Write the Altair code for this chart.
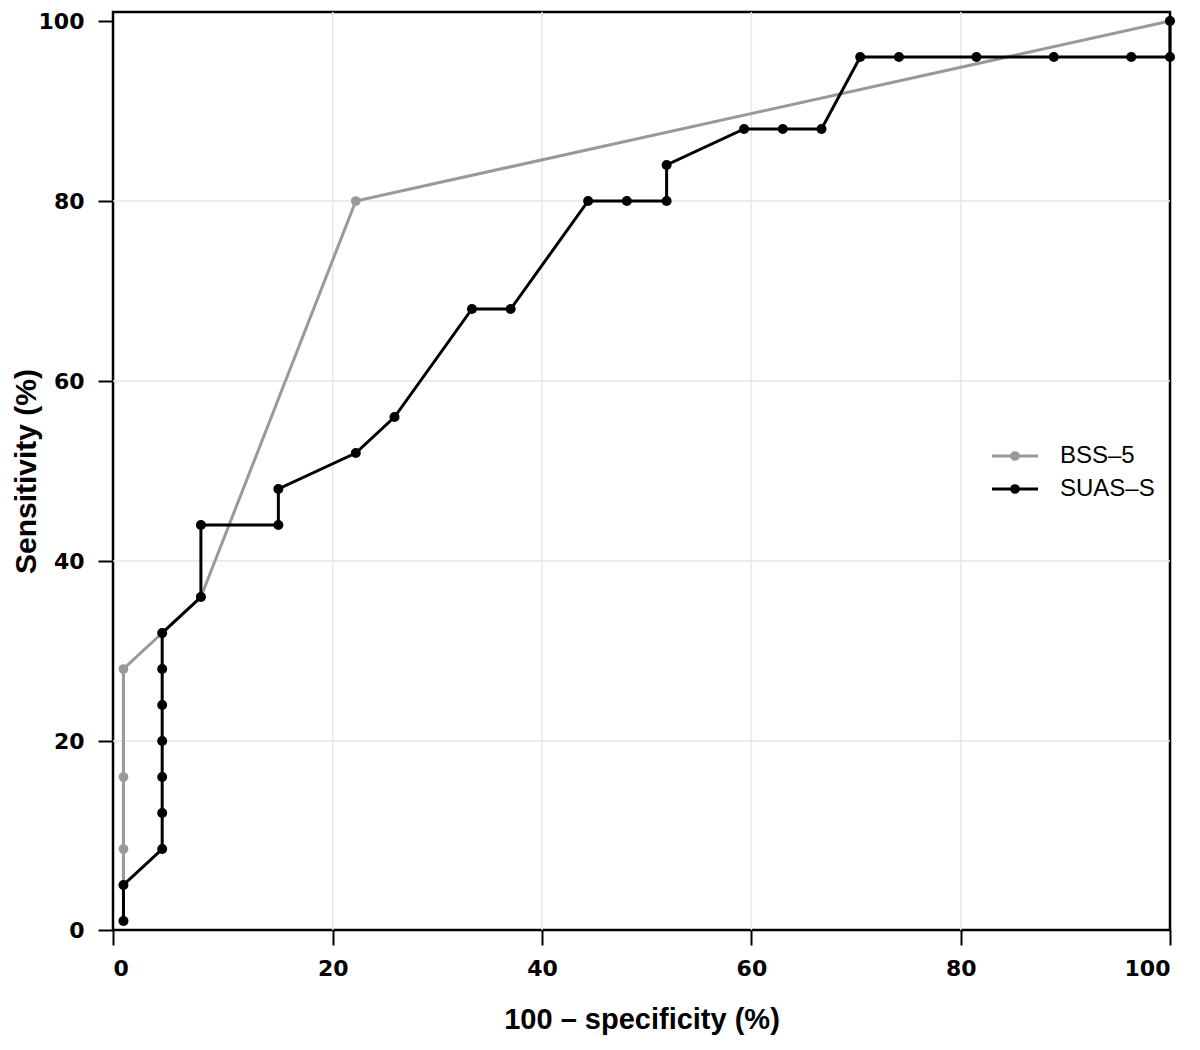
import altair as alt
import pandas as pd

# ---- data ----
series_names = ["BSS–5", "SUAS–S"]
series_colors = ["#999999", "#000000"]

bss_x = [0, 0, 0, 0, 3.7, 7.4, 22.2, 100]
bss_y = [0, 8, 16, 28, 32, 36, 80, 100]

suas_x = [0, 0, 3.7, 3.7, 3.7, 3.7, 3.7, 3.7, 3.7, 7.4, 7.4, 14.8, 14.8, 22.2, 25.9,
          33.3, 37.0, 44.4, 48.1, 51.9, 51.9, 59.3, 63.0, 66.7, 70.4, 74.1, 81.5,
          88.9, 96.3, 100, 100]
suas_y = [0, 4, 8, 12, 16, 20, 24, 28, 32, 36, 44, 44, 48, 52, 56,
          68, 68, 80, 80, 80, 84, 88, 88, 88, 96, 96, 96,
          96, 96, 96, 100]

tick_values = [-1, 20, 40, 60, 80, 100]
grid_values = [20, 40, 60, 80]

bss = pd.DataFrame({"x": bss_x, "y": bss_y, "idx": range(len(bss_x))})
suas = pd.DataFrame({"x": suas_x, "y": suas_y, "idx": range(len(suas_x))})
grid = pd.DataFrame({"v": grid_values})

W, H = 1057, 918

xscale = alt.Scale(domain=[-1, 100], nice=False, zero=False)
yscale = alt.Scale(domain=[-1, 101], nice=False, zero=False)

label_expr = "datum.value < 0 ? '0' : datum.label"

xaxis = alt.Axis(values=tick_values, labelExpr=label_expr, grid=False, domain=False,
                 tickColor="black", tickWidth=2, tickSize=15,
                 labelFont="DejaVu Sans", labelFontWeight="bold", labelFontSize=22,
                 labelColor="black", labelPadding=13,
                 title="100 – specificity (%)", titleFont="Liberation Sans",
                 titleFontWeight="bold", titleFontSize=29, titleColor="black",
                 titlePadding=26)
yaxis = alt.Axis(values=tick_values, labelExpr=label_expr, grid=False, domain=False,
                 tickColor="black", tickWidth=2, tickSize=15,
                 labelFont="DejaVu Sans", labelFontWeight="bold", labelFontSize=22,
                 labelColor="black", labelPadding=14,
                 title="Sensitivity (%)", titleFont="Liberation Sans",
                 titleFontWeight="bold", titleFontSize=30, titleColor="black",
                 titleX=-87, titleY=H / 2, titleBaseline="middle", titleAngle=270)

gridx = alt.Chart(grid).mark_rule(color="#e6e6e6", strokeWidth=1.5).encode(
    x=alt.X("v:Q", scale=xscale, axis=xaxis))
gridy = alt.Chart(grid).mark_rule(color="#e6e6e6", strokeWidth=1.5).encode(
    y=alt.Y("v:Q", scale=yscale, axis=yaxis))


def series_layers(df, color, size):
    enc = dict(x=alt.X("x:Q", scale=xscale, axis=xaxis),
               y=alt.Y("y:Q", scale=yscale, axis=yaxis),
               order="idx:Q")
    line = alt.Chart(df).mark_line(color=color, strokeWidth=3).encode(**enc)
    pts = alt.Chart(df).mark_circle(color=color, size=size, opacity=1).encode(
        x=alt.X("x:Q", scale=xscale, axis=xaxis),
        y=alt.Y("y:Q", scale=yscale, axis=yaxis))
    return [line, pts]


def legend_layers(name, color, ypix):
    d = pd.DataFrame({"label": [name]})
    rule = alt.Chart(d).mark_rule(color=color, strokeWidth=3).encode(
        x=alt.value(879), x2=alt.value(925), y=alt.value(ypix))
    dot = alt.Chart(d).mark_circle(color=color, size=95, opacity=1).encode(
        x=alt.value(902), y=alt.value(ypix))
    txt = alt.Chart(d).mark_text(align="left", baseline="middle", font="Liberation Sans",
                                 fontSize=24, color="black").encode(
        x=alt.value(947), y=alt.value(ypix), text="label:N")
    return [rule, dot, txt]


layers = [gridx, gridy]
layers += series_layers(bss, series_colors[0], 95)
layers += series_layers(suas, series_colors[1], 100)
layers += legend_layers(series_names[0], series_colors[0], 444)
layers += legend_layers(series_names[1], series_colors[1], 477)

chart = alt.layer(*layers).properties(
    width=W, height=H,
    padding={"left": 105, "top": 4, "right": 20, "bottom": 110},
    autosize=alt.AutoSizeParams(type="none"),
    background="white",
).configure_view(stroke="black", strokeWidth=2.5)

chart.save("out.html", embed_options={"renderer": "svg", "actions": False})
